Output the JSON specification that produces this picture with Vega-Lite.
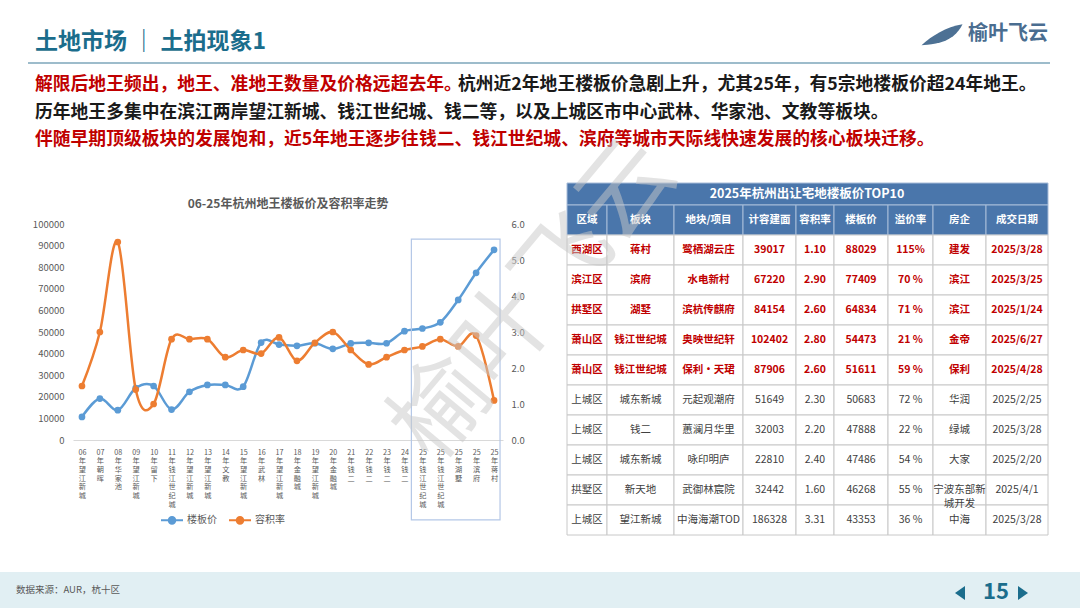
{
"$schema": "https://vega.github.io/schema/vega-lite/v6.json",
"background": "#ffffff",
"padding": 0,
"config": {"font": "Noto Sans CJK SC", "view": {"stroke": null}, "concat": {"spacing": 0}},
"datasets": {
"trend": [
{"site":"06年望江新城","price":10700,"far":1.5},
{"site":"07年朝晖","price":19200,"far":3.0},
{"site":"08年华家池","price":13800,"far":5.5},
{"site":"09年望江新城","price":24000,"far":1.4},
{"site":"10年留下","price":25000,"far":1.0},
{"site":"11年钱江世纪城","price":14100,"far":2.8},
{"site":"12年望江新城","price":22300,"far":2.8},
{"site":"13年望江新城","price":25500,"far":2.8},
{"site":"14年文教","price":25500,"far":2.3},
{"site":"15年望江新城","price":24700,"far":2.5},
{"site":"16年武林","price":45100,"far":2.4},
{"site":"17年望江新城","price":44200,"far":2.85},
{"site":"18年金融城","price":43600,"far":2.2},
{"site":"19年望江新城","price":44800,"far":2.7},
{"site":"20年金融城","price":42200,"far":3.0},
{"site":"21年钱二","price":44700,"far":2.5},
{"site":"22年钱二","price":45000,"far":2.1},
{"site":"23年钱二","price":44800,"far":2.3},
{"site":"24年钱二","price":50400,"far":2.5},
{"site":"25年钱江世纪城","price":51611,"far":2.6},
{"site":"25年钱江世纪城\u200b","price":54473,"far":2.8},
{"site":"25年湖墅","price":64834,"far":2.6},
{"site":"25年滨府","price":77409,"far":2.9},
{"site":"25年蒋村","price":88029,"far":1.1}
],
"top10": [
{"row":0,"area":"区域","block":"板块","proj":"地块/项目","gfa":"计容建面","far":"容积率","price":"楼板价","prem":"溢价率","dev":"房企","date":"成交日期"},
{"row":1,"area":"西湖区","block":"蒋村","proj":"鹭栖湖云庄","gfa":"39017","far":"1.10","price":"88029","prem":"115%","dev":"建发","date":"2025/3/28"},
{"row":2,"area":"滨江区","block":"滨府","proj":"水电新村","gfa":"67220","far":"2.90","price":"77409","prem":"70 %","dev":"滨江","date":"2025/3/25"},
{"row":3,"area":"拱墅区","block":"湖墅","proj":"滨杭传麒府","gfa":"84154","far":"2.60","price":"64834","prem":"71 %","dev":"滨江","date":"2025/1/24"},
{"row":4,"area":"萧山区","block":"钱江世纪城","proj":"奥映世纪轩","gfa":"102402","far":"2.80","price":"54473","prem":"21 %","dev":"金帝","date":"2025/6/27"},
{"row":5,"area":"萧山区","block":"钱江世纪城","proj":"保利·天珺","gfa":"87906","far":"2.60","price":"51611","prem":"59 %","dev":"保利","date":"2025/4/28"},
{"row":6,"area":"上城区","block":"城东新城","proj":"元起观潮府","gfa":"51649","far":"2.30","price":"50683","prem":"72 %","dev":"华润","date":"2025/2/25"},
{"row":7,"area":"上城区","block":"钱二","proj":"蕙澜月华里","gfa":"32003","far":"2.20","price":"47888","prem":"22 %","dev":"绿城","date":"2025/3/28"},
{"row":8,"area":"上城区","block":"城东新城","proj":"咏印明庐","gfa":"22810","far":"2.40","price":"47486","prem":"54 %","dev":"大家","date":"2025/2/20"},
{"row":9,"area":"拱墅区","block":"新天地","proj":"武御林宸院","gfa":"32442","far":"1.60","price":"46268","prem":"55 %","dev":"宁波东部新\n城开发","date":"2025/4/1"},
{"row":10,"area":"上城区","block":"望江新城","proj":"中海海潮TOD","gfa":"186328","far":"3.31","price":"43353","prem":"36 %","dev":"中海","date":"2025/3/28"}
]
},
"spacing": 0,
"bounds": "flush",
"hconcat": [
{"width": 73, "height": 608,
 "layer": [
  {"data": {"values": [{"band": "footer"}]}, "mark": {"type": "rect", "fill": "#e1eff3"}, "encoding": {"x": {"value": 0}, "x2": {"value": 1080}, "y": {"value": 572}, "y2": {"value": 608}}},
  {"data": {"values": [{"t": "土地市场 ｜ 土拍现象1"}]}, "mark": {"type": "text", "align": "left", "baseline": "middle", "fontSize": 23, "fontWeight": "bold", "color": "#1b6d8c"}, "encoding": {"text": {"field": "t"}, "x": {"value": 35}, "y": {"value": 42}}},
  {"data": {"values": [{"t": "榆叶飞云"}]}, "mark": {"type": "text", "align": "left", "baseline": "middle", "fontSize": 20, "fontWeight": "bold", "color": "#4a6d90"}, "encoding": {"text": {"field": "t"}, "x": {"value": 968}, "y": {"value": 34}}},
  {"data": {"values": [{"logo": "leaf"}]}, "mark": {"type": "point", "shape": "M-1,0.5C-0.5,0.05,0.2,-0.4,1,-0.52C0.8,-0.1,0.4,0.3,-0.3,0.42C-0.6,0.47,-0.85,0.5,-1,0.5Z", "filled": true, "size": 1681, "color": "#4d7194", "opacity": 1}, "encoding": {"x": {"value": 942}, "y": {"value": 35}}},
  {"data": {"values": [{"r": 1}]}, "mark": {"type": "rule", "color": "#9dbccb", "strokeWidth": 2}, "encoding": {"x": {"value": 28}, "x2": {"value": 1050}, "y": {"value": 63}}},
  {"data": {"values": [{"t": "解限后地王频出，地王、准地王数量及价格远超去年。"}]}, "mark": {"type": "text", "align": "left", "baseline": "middle", "fontSize": 17.8, "fontWeight": "bold", "color": "#c00000"}, "encoding": {"text": {"field": "t"}, "x": {"value": 35}, "y": {"value": 85}}},
  {"data": {"values": [{"t": "杭州近2年地王楼板价急剧上升，尤其25年，有5宗地楼板价超24年地王。"}]}, "mark": {"type": "text", "align": "left", "baseline": "middle", "fontSize": 17.8, "fontWeight": "bold", "color": "#1a1a1a"}, "encoding": {"text": {"field": "t"}, "x": {"value": 458}, "y": {"value": 85}}},
  {"data": {"values": [{"t": "历年地王多集中在滨江两岸望江新城、钱江世纪城、钱二等，以及上城区市中心武林、华家池、文教等板块。"}]}, "mark": {"type": "text", "align": "left", "baseline": "middle", "fontSize": 17.8, "fontWeight": "bold", "color": "#1a1a1a"}, "encoding": {"text": {"field": "t"}, "x": {"value": 35}, "y": {"value": 113}}},
  {"data": {"values": [{"t": "伴随早期顶级板块的发展饱和，近5年地王逐步往钱二、钱江世纪城、滨府等城市天际线快速发展的核心板块迁移。"}]}, "mark": {"type": "text", "align": "left", "baseline": "middle", "fontSize": 17.8, "fontWeight": "bold", "color": "#c00000"}, "encoding": {"text": {"field": "t"}, "x": {"value": 35}, "y": {"value": 140}}},
  {"data": {"values": [{"band": "tabletitle"}]}, "mark": {"type": "rect", "fill": "#4a76ab", "stroke": "#a7bcd9", "strokeWidth": 1}, "encoding": {"x": {"value": 567}, "x2": {"value": 1048}, "y": {"value": 183}, "y2": {"value": 205}}},
  {"data": {"values": [{"t": "2025年杭州出让宅地楼板价TOP10"}]}, "mark": {"type": "text", "align": "center", "baseline": "middle", "fontSize": 12.5, "fontWeight": "bold", "color": "#ffffff"}, "encoding": {"text": {"field": "t"}, "x": {"value": 807}, "y": {"value": 194}}},
  {"data": {"values": [{"t": "数据来源：AUR，杭十区"}]}, "mark": {"type": "text", "align": "left", "baseline": "middle", "fontSize": 9.5, "color": "#595959"}, "encoding": {"text": {"field": "t"}, "x": {"value": 16}, "y": {"value": 590}}},
  {"data": {"values": [{"p": "15"}]}, "mark": {"type": "text", "align": "center", "baseline": "middle", "fontSize": 22, "fontWeight": "bold", "color": "#1b6d8c"}, "encoding": {"text": {"field": "p"}, "x": {"value": 996}, "y": {"value": 592}}},
  {"data": {"values": [{"nav": "prev"}]}, "mark": {"type": "point", "shape": "M1,-1.4L-1,0L1,1.4Z", "filled": true, "size": 100, "color": "#1b6d8c", "opacity": 1}, "encoding": {"x": {"value": 960}, "y": {"value": 593}}},
  {"data": {"values": [{"nav": "next"}]}, "mark": {"type": "point", "shape": "M-1,-1.4L1,0L-1,1.4Z", "filled": true, "size": 100, "color": "#1b6d8c", "opacity": 1}, "encoding": {"x": {"value": 1023}, "y": {"value": 593}}}
 ]},
{"width": 430, "height": 440,
 "title": {"text": "06-25年杭州地王楼板价及容积率走势", "fontSize": 12, "fontWeight": "bold", "color": "#595959", "anchor": "middle", "frame": "group", "baseline": "middle", "offset": -216},
 "data": {"name": "trend"},
 "encoding": {"x": {"field": "site", "type": "nominal",
   "scale": {"type": "point", "padding": 0.5, "domain": ["06年望江新城","07年朝晖","08年华家池","09年望江新城","10年留下","11年钱江世纪城","12年望江新城","13年望江新城","14年文教","15年望江新城","16年武林","17年望江新城","18年金融城","19年望江新城","20年金融城","21年钱二","22年钱二","23年钱二","24年钱二","25年钱江世纪城","25年钱江世纪城\u200b","25年湖墅","25年滨府","25年蒋村"]},
   "axis": {"title": null, "domain": true, "domainColor": "#d9d9d9", "ticks": false, "grid": false, "labelAngle": 0, "labelFontSize": 7.2, "labelLineHeight": 8.7, "labelColor": "#595959", "labelPadding": 8, "labelOverlap": false, "labelBound": false, "labelFlush": false, "labelBaseline": "top",
     "labelExpr": "split(substring(replace(datum.value,'\u200b',''),0,2) + '|' + join(split(substring(replace(datum.value,'\u200b',''),2),''),'|'),'|')"}}},
 "layer": [
   {"encoding": {
      "y": {"field": "price", "type": "quantitative", "scale": {"domain": [0, 100000], "range": [440, 224], "nice": false}, "axis": {"title": null, "orient": "left", "domain": false, "ticks": false, "grid": false, "values": [0,10000,20000,30000,40000,50000,60000,70000,80000,90000,100000], "format": "d", "labelFontSize": 9.5, "labelColor": "#595959", "labelPadding": 9}},
      "color": {"datum": "楼板价", "type": "nominal", "scale": {"domain": ["楼板价", "容积率"], "range": ["#5b9bd5", "#ed7d31"]},
        "legend": {"orient": "none", "legendX": 160, "legendY": 508, "direction": "horizontal", "title": null, "symbolType": "M-1,0L1,0M0.3,0A0.3,0.3,0,1,1,-0.3,0A0.3,0.3,0,1,1,0.3,0M0.12,0A0.12,0.12,0,1,1,-0.12,0A0.12,0.12,0,1,1,0.12,0", "symbolSize": 484, "symbolStrokeWidth": 2, "labelFontSize": 10, "labelColor": "#595959", "columnPadding": 8, "labelOffset": 3}}},
    "layer": [
      {"mark": {"type": "line", "interpolate": "cardinal", "strokeWidth": 2.5}},
      {"mark": {"type": "point", "filled": true, "size": 45, "opacity": 1}}
    ]},
   {"encoding": {
      "y": {"field": "far", "type": "quantitative", "scale": {"domain": [0, 6], "range": [440, 224], "nice": false}, "axis": {"title": null, "orient": "right", "domain": false, "ticks": false, "grid": false, "values": [0,1,2,3,4,5,6], "format": ".1f", "labelFontSize": 9.5, "labelColor": "#595959", "labelPadding": 8}},
      "color": {"datum": "容积率", "type": "nominal"}},
    "layer": [
      {"mark": {"type": "line", "interpolate": "cardinal", "strokeWidth": 2.5}},
      {"mark": {"type": "point", "filled": true, "size": 45, "opacity": 1}}
    ]},
   {"data": {"values": [{"box": "2025"}]},
    "mark": {"type": "rect", "fillOpacity": 0, "stroke": "#b4c7e7", "strokeWidth": 1.2, "xOffset": -11, "x2Offset": 6, "clip": false},
    "encoding": {"x": {"datum": "25年钱江世纪城"}, "x2": {"datum": "25年蒋村"},
      "y": {"datum": 93000, "type": "quantitative", "scale": {"domain": [0, 100000], "range": [440, 224], "nice": false}, "axis": null}, "y2": {"datum": -37000}}}
 ],
 "resolve": {"scale": {"y": "independent"}}},
{"width": 64, "height": 10, "data": {"values": []}, "mark": "point"},
{"width": 40, "height": 535, "data": {"name": "top10"}, "encoding": {"y": {"field": "row", "type": "ordinal", "axis": null, "scale": {"range": [205, 535], "paddingInner": 0, "paddingOuter": 0}}},
 "layer": [
  {"mark": {"type": "rect", "strokeWidth": 1}, "encoding": {"fill": {"condition": {"test": "datum.row === 0", "value": "#4a76ab"}, "value": "#ffffff"}, "stroke": {"condition": {"test": "datum.row === 0", "value": "#a7bcd9"}, "value": "#c8c8c8"}}},
  {"mark": {"type": "text", "fontSize": 10.5, "lineBreak": "\n", "lineHeight": 14, "fontWeight": {"expr": "datum.row <= 5 ? 'bold' : 'normal'"}}, "encoding": {"text": {"field": "area"}, "color": {"condition": [{"test": "datum.row === 0", "value": "#ffffff"}, {"test": "datum.row <= 5", "value": "#c00000"}], "value": "#404040"}}}
 ]},
{"width": 67, "height": 535, "data": {"name": "top10"}, "encoding": {"y": {"field": "row", "type": "ordinal", "axis": null, "scale": {"range": [205, 535], "paddingInner": 0, "paddingOuter": 0}}},
 "layer": [
  {"mark": {"type": "rect", "strokeWidth": 1}, "encoding": {"fill": {"condition": {"test": "datum.row === 0", "value": "#4a76ab"}, "value": "#ffffff"}, "stroke": {"condition": {"test": "datum.row === 0", "value": "#a7bcd9"}, "value": "#c8c8c8"}}},
  {"mark": {"type": "text", "fontSize": 10.5, "lineBreak": "\n", "lineHeight": 14, "fontWeight": {"expr": "datum.row <= 5 ? 'bold' : 'normal'"}}, "encoding": {"text": {"field": "block"}, "color": {"condition": [{"test": "datum.row === 0", "value": "#ffffff"}, {"test": "datum.row <= 5", "value": "#c00000"}], "value": "#404040"}}}
 ]},
{"width": 69, "height": 535, "data": {"name": "top10"}, "encoding": {"y": {"field": "row", "type": "ordinal", "axis": null, "scale": {"range": [205, 535], "paddingInner": 0, "paddingOuter": 0}}},
 "layer": [
  {"mark": {"type": "rect", "strokeWidth": 1}, "encoding": {"fill": {"condition": {"test": "datum.row === 0", "value": "#4a76ab"}, "value": "#ffffff"}, "stroke": {"condition": {"test": "datum.row === 0", "value": "#a7bcd9"}, "value": "#c8c8c8"}}},
  {"mark": {"type": "text", "fontSize": 10.5, "lineBreak": "\n", "lineHeight": 14, "fontWeight": {"expr": "datum.row <= 5 ? 'bold' : 'normal'"}}, "encoding": {"text": {"field": "proj"}, "color": {"condition": [{"test": "datum.row === 0", "value": "#ffffff"}, {"test": "datum.row <= 5", "value": "#c00000"}], "value": "#404040"}}}
 ]},
{"width": 53, "height": 535, "data": {"name": "top10"}, "encoding": {"y": {"field": "row", "type": "ordinal", "axis": null, "scale": {"range": [205, 535], "paddingInner": 0, "paddingOuter": 0}}},
 "layer": [
  {"mark": {"type": "rect", "strokeWidth": 1}, "encoding": {"fill": {"condition": {"test": "datum.row === 0", "value": "#4a76ab"}, "value": "#ffffff"}, "stroke": {"condition": {"test": "datum.row === 0", "value": "#a7bcd9"}, "value": "#c8c8c8"}}},
  {"mark": {"type": "text", "fontSize": 10.5, "lineBreak": "\n", "lineHeight": 14, "fontWeight": {"expr": "datum.row <= 5 ? 'bold' : 'normal'"}}, "encoding": {"text": {"field": "gfa"}, "color": {"condition": [{"test": "datum.row === 0", "value": "#ffffff"}, {"test": "datum.row <= 5", "value": "#c00000"}], "value": "#404040"}}}
 ]},
{"width": 38, "height": 535, "data": {"name": "top10"}, "encoding": {"y": {"field": "row", "type": "ordinal", "axis": null, "scale": {"range": [205, 535], "paddingInner": 0, "paddingOuter": 0}}},
 "layer": [
  {"mark": {"type": "rect", "strokeWidth": 1}, "encoding": {"fill": {"condition": {"test": "datum.row === 0", "value": "#4a76ab"}, "value": "#ffffff"}, "stroke": {"condition": {"test": "datum.row === 0", "value": "#a7bcd9"}, "value": "#c8c8c8"}}},
  {"mark": {"type": "text", "fontSize": 10.5, "lineBreak": "\n", "lineHeight": 14, "fontWeight": {"expr": "datum.row <= 5 ? 'bold' : 'normal'"}}, "encoding": {"text": {"field": "far"}, "color": {"condition": [{"test": "datum.row === 0", "value": "#ffffff"}, {"test": "datum.row <= 5", "value": "#c00000"}], "value": "#404040"}}}
 ]},
{"width": 54, "height": 535, "data": {"name": "top10"}, "encoding": {"y": {"field": "row", "type": "ordinal", "axis": null, "scale": {"range": [205, 535], "paddingInner": 0, "paddingOuter": 0}}},
 "layer": [
  {"mark": {"type": "rect", "strokeWidth": 1}, "encoding": {"fill": {"condition": {"test": "datum.row === 0", "value": "#4a76ab"}, "value": "#ffffff"}, "stroke": {"condition": {"test": "datum.row === 0", "value": "#a7bcd9"}, "value": "#c8c8c8"}}},
  {"mark": {"type": "text", "fontSize": 10.5, "lineBreak": "\n", "lineHeight": 14, "fontWeight": {"expr": "datum.row <= 5 ? 'bold' : 'normal'"}}, "encoding": {"text": {"field": "price"}, "color": {"condition": [{"test": "datum.row === 0", "value": "#ffffff"}, {"test": "datum.row <= 5", "value": "#c00000"}], "value": "#404040"}}}
 ]},
{"width": 45, "height": 535, "data": {"name": "top10"}, "encoding": {"y": {"field": "row", "type": "ordinal", "axis": null, "scale": {"range": [205, 535], "paddingInner": 0, "paddingOuter": 0}}},
 "layer": [
  {"mark": {"type": "rect", "strokeWidth": 1}, "encoding": {"fill": {"condition": {"test": "datum.row === 0", "value": "#4a76ab"}, "value": "#ffffff"}, "stroke": {"condition": {"test": "datum.row === 0", "value": "#a7bcd9"}, "value": "#c8c8c8"}}},
  {"mark": {"type": "text", "fontSize": 10.5, "lineBreak": "\n", "lineHeight": 14, "fontWeight": {"expr": "datum.row <= 5 ? 'bold' : 'normal'"}}, "encoding": {"text": {"field": "prem"}, "color": {"condition": [{"test": "datum.row === 0", "value": "#ffffff"}, {"test": "datum.row <= 5", "value": "#c00000"}], "value": "#404040"}}}
 ]},
{"width": 53, "height": 535, "data": {"name": "top10"}, "encoding": {"y": {"field": "row", "type": "ordinal", "axis": null, "scale": {"range": [205, 535], "paddingInner": 0, "paddingOuter": 0}}},
 "layer": [
  {"mark": {"type": "rect", "strokeWidth": 1}, "encoding": {"fill": {"condition": {"test": "datum.row === 0", "value": "#4a76ab"}, "value": "#ffffff"}, "stroke": {"condition": {"test": "datum.row === 0", "value": "#a7bcd9"}, "value": "#c8c8c8"}}},
  {"mark": {"type": "text", "fontSize": 10.5, "lineBreak": "\n", "lineHeight": 14, "fontWeight": {"expr": "datum.row <= 5 ? 'bold' : 'normal'"}}, "encoding": {"text": {"field": "dev"}, "color": {"condition": [{"test": "datum.row === 0", "value": "#ffffff"}, {"test": "datum.row <= 5", "value": "#c00000"}], "value": "#404040"}}}
 ]},
{"width": 62, "height": 535,
 "layer": [
  {"data": {"name": "top10"}, "mark": {"type": "rect", "strokeWidth": 1}, "encoding": {"y": {"field": "row", "type": "ordinal", "axis": null, "scale": {"range": [205, 535], "paddingInner": 0, "paddingOuter": 0}}, "fill": {"condition": {"test": "datum.row === 0", "value": "#4a76ab"}, "value": "#ffffff"}, "stroke": {"condition": {"test": "datum.row === 0", "value": "#a7bcd9"}, "value": "#c8c8c8"}}},
  {"data": {"name": "top10"}, "mark": {"type": "text", "fontSize": 10.5, "lineBreak": "\n", "lineHeight": 14, "fontWeight": {"expr": "datum.row <= 5 ? 'bold' : 'normal'"}}, "encoding": {"y": {"field": "row", "type": "ordinal", "axis": null}, "text": {"field": "date"}, "color": {"condition": [{"test": "datum.row === 0", "value": "#ffffff"}, {"test": "datum.row <= 5", "value": "#c00000"}], "value": "#404040"}}},
  {"data": {"values": [{"t": "榆叶飞云"}]}, "mark": {"type": "text", "align": "center", "baseline": "middle", "fontSize": 95, "angle": -50, "color": "#c8c8c8", "opacity": 0.5}, "encoding": {"text": {"field": "t"}, "x": {"value": -451}, "y": {"value": 300}}}
 ]}
]
}
